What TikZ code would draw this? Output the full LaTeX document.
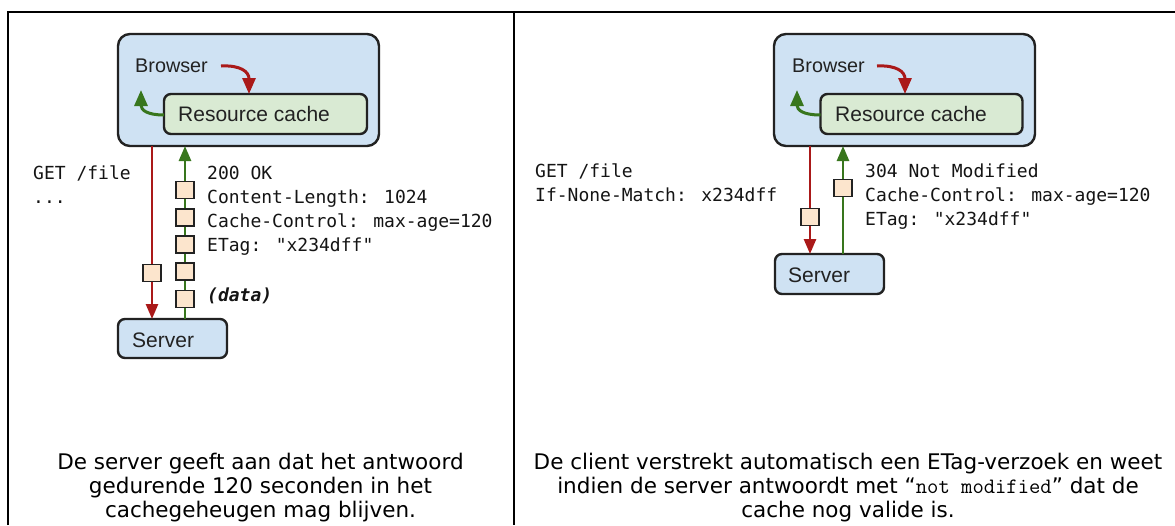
\documentclass[tikz,border=0pt]{standalone}
\usepackage{fontspec}
\setmainfont{DejaVu Sans}
\newfontfamily\diagfont{Liberation Sans}
\newfontfamily\codefont{DejaVu Sans Mono}
\usetikzlibrary{arrows.meta}

\definecolor{boxblue}{HTML}{CFE2F3}
\definecolor{boxgreen}{HTML}{D9EAD3}
\definecolor{packet}{HTML}{FCE5CD}
\definecolor{reqred}{RGB}{170,25,25}
\definecolor{resgreen}{HTML}{38761D}
\definecolor{edge}{HTML}{222222}

\begin{document}
\begin{tikzpicture}[x=1pt,y=-1pt,
  panel/.style={draw=black,line width=2pt,line join=miter},
  hostbox/.style={draw=edge,fill=boxblue,line width=2.4pt,rounded corners=12pt,outer sep=0pt,inner sep=0pt},
  serverbox/.style={hostbox,rounded corners=7pt},
  cachebox/.style={draw=edge,fill=boxgreen,line width=2.4pt,rounded corners=7pt,outer sep=0pt,inner sep=0pt},
  packetbox/.style={draw=edge,fill=packet,line width=1.3pt,minimum width=18pt,minimum height=17pt,inner sep=0pt,outer sep=0pt},
  label/.style={font=\diagfont\fontsize{21}{24}\selectfont,text=edge,inner sep=0pt,anchor=base west},
  code/.style={font=\codefont\fontsize{18}{24}\selectfont,text=black!92,inner sep=0pt,anchor=base west},
  caption/.style={font=\fontsize{21.5}{24}\selectfont,inner sep=0pt,anchor=base},
  req/.style={draw=reqred,line width=2.6pt,-{Triangle[length=15pt,width=12pt]}},
  res/.style={draw=resgreen,line width=2.6pt,-{Triangle[length=15pt,width=12pt]}},
  bendtip/.style={line width=3pt,-{Triangle[length=16pt,width=13pt]}},
]
\useasboundingbox (0,0) rectangle (1175,525);
\fill[white] (0,0) rectangle (1175,525);

% table frame
\draw[panel] (8,525) -- (8,12) -- (1175,12);
\draw[panel] (514,12) -- (514,525);

% ---------- left panel: first request ----------
\node[hostbox,minimum width=261pt,minimum height=112pt] (browserA) at (248.5,90) {};
\node[cachebox,minimum width=203pt,minimum height=40pt] (cacheA) at (265.5,114) {};
\node[serverbox,minimum width=109pt,minimum height=39pt] (serverA) at (172.5,338.5) {};

\node[label,font=\diagfont\fontsize{19.8}{24}\selectfont] (browserTextA) at (135,72) {Browser};
\node[label] (cacheTextA) at (178,121) {Resource cache};
\node[label] (serverTextA) at (132,347) {Server};

\coordinate (redStartA) at (221,66);
\coordinate (redTipXA) at (249,0);
\coordinate (greenTipA) at (141,90);
\draw[req,bendtip] (redStartA) .. controls (241,65) and (249,72) .. (cacheA.north -| redTipXA);
\draw[res,bendtip] (cacheA.west |- 0,115) .. controls (147,115) and (141,110) .. (greenTipA);

\coordinate (reqLaneA) at (152,0);
\coordinate (resLaneA) at (185,0);
\draw[req] (browserA.south -| reqLaneA) -- (serverA.north -| reqLaneA);
\draw[res] (serverA.north -| resLaneA) -- (browserA.south -| resLaneA);

\node[packetbox] (reqPacketA) at (152,273) {};
\node[packetbox] (resPacketA1) at (185,190.3) {};
\node[packetbox] (resPacketA2) at (185,217.5) {};
\node[packetbox] (resPacketA3) at (185,244.5) {};
\node[packetbox] (resPacketA4) at (185,271.5) {};
\node[packetbox] (resPacketA5) at (185,299) {};

\node[code] (getA) at (33,179) {GET /file};
\node[code] (dotsA) at (33,203) {...};
\node[code] (statusA) at (207,179) {200 OK};
\node[code] (lengthA) at (207,203) {Content-Length: 1024};
\node[code] (cacheCtlA) at (207,227) {Cache-Control: max-age=120};
\node[code] (etagA) at (207,251) {ETag: "x234dff"};
\node[code,font=\codefont\fontsize{18}{24}\selectfont\bfseries\itshape] (dataA) at (207,301) {(data)};

\node[caption] (capA1) at (260.5,469) {De server geeft aan dat het antwoord};
\node[caption] (capA2) at (260.5,493) {gedurende 120 seconden in het};
\node[caption] (capA3) at (260.5,517) {cachegeheugen mag blijven.};

% ---------- right panel: revalidation ----------
\node[hostbox,minimum width=261pt,minimum height=112pt] (browserB) at (904.5,90) {};
\node[cachebox,minimum width=202pt,minimum height=40pt] (cacheB) at (921.5,114) {};
\node[serverbox,minimum width=109pt,minimum height=40pt] (serverB) at (829.5,274) {};

\node[label,font=\diagfont\fontsize{19.8}{24}\selectfont] (browserTextB) at (792,72) {Browser};
\node[label] (cacheTextB) at (835,121) {Resource cache};
\node[label] (serverTextB) at (788,282) {Server};

\coordinate (redStartB) at (877,66);
\coordinate (redTipXB) at (905,0);
\coordinate (greenTipB) at (797,90);
\draw[req,bendtip] (redStartB) .. controls (897,65) and (905,72) .. (cacheB.north -| redTipXB);
\draw[res,bendtip] (cacheB.west |- 0,115) .. controls (803,115) and (797,110) .. (greenTipB);

\coordinate (reqLaneB) at (810,0);
\coordinate (resLaneB) at (843,0);
\draw[req] (browserB.south -| reqLaneB) -- (serverB.north -| reqLaneB);
\draw[res] (serverB.north -| resLaneB) -- (browserB.south -| resLaneB);

\node[packetbox] (reqPacketB) at (810,216.7) {};
\node[packetbox] (resPacketB) at (843,187.7) {};

\node[code] (getB) at (535,177) {GET /file};
\node[code] (ifNoneB) at (535,201) {If-None-Match: x234dff};
\node[code] (statusB) at (865,177) {304 Not Modified};
\node[code] (cacheCtlB) at (865,201) {Cache-Control: max-age=120};
\node[code] (etagB) at (865,225) {ETag: "x234dff"};

\node[caption] (capB1) at (848,469) {De client verstrekt automatisch een ETag-verzoek en weet};
\node[caption] (capB2) at (848,493) {indien de server antwoordt met “{\ttfamily\fontsize{22}{24}\selectfont not modified}” dat de};
\node[caption] (capB3) at (848,517) {cache nog valide is.};
\end{tikzpicture}
\end{document}
